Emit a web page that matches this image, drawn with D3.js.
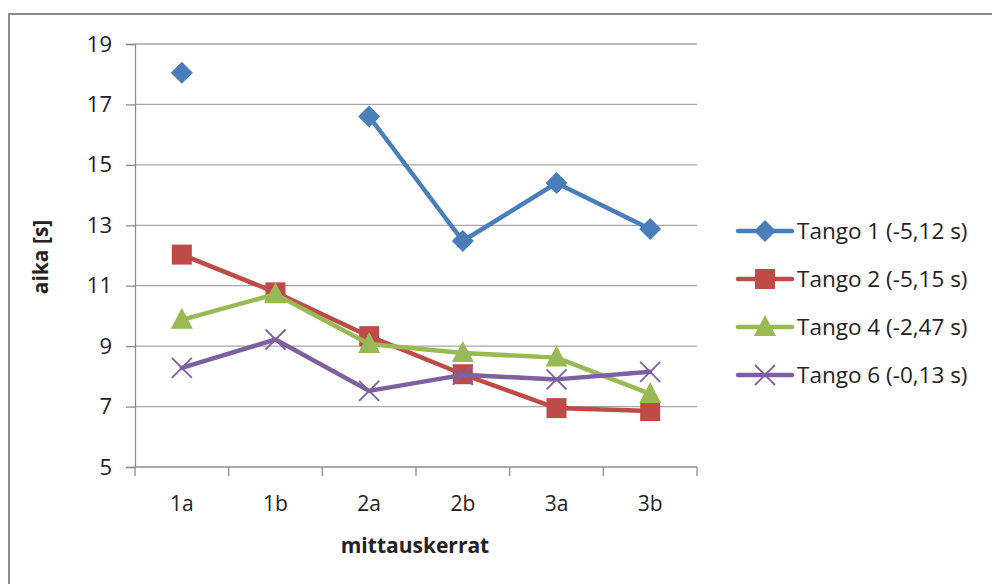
<!DOCTYPE html>
<html>
<head>
<meta charset="utf-8">
<script src="https://cdn.jsdelivr.net/npm/d3@7"></script>
<style>
  html, body { margin: 0; padding: 0; background: #fff; }
  svg { display: block; }
  text { font-family: "Open Sans", "Liberation Sans", sans-serif; fill: #222; }
</style>
</head>
<body>
<svg id="chart" width="992" height="584"></svg>
<script>
// Measurement rounds and lap times per tango (s)
const categories = ["1a", "1b", "2a", "2b", "3a", "3b"];
const seriesNames = ["Tango 1 (-5,12 s)", "Tango 2 (-5,15 s)", "Tango 4 (-2,47 s)", "Tango 6 (-0,13 s)"];
const tango1 = [18.05, null, 16.6, 12.48, 14.4, 12.88];
const tango2 = [12.03, 10.78, 9.33, 8.07, 6.95, 6.85];
const tango4 = [9.87, 10.72, 9.07, 8.77, 8.62, 7.42];
const tango6 = [8.28, 9.22, 7.52, 8.05, 7.9, 8.15];
const yTicks = [5, 7, 9, 11, 13, 15, 17, 19];
const colors = ["#4a7ebb", "#be4b48", "#98b954", "#7d60a0"];
const markers = ["diamond", "square", "triangle", "cross"];

const series = [tango1, tango2, tango4, tango6].map((values, i) => ({
  name: seriesNames[i], values, color: colors[i], marker: markers[i]
}));

const svg = d3.select("#chart");

// outer chart frame (top and left edges visible)
svg.append("path")
  .attr("d", "M9,584 V14 H992")
  .attr("fill", "none").attr("stroke", "#8a8a8a").attr("stroke-width", 2);

const plot = { left: 135, right: 697, top: 44, bottom: 467 };

const x = d3.scaleBand().domain(categories).range([plot.left, plot.right]);
const y = d3.scaleLinear().domain([5, 19]).range([plot.bottom, plot.top]);

// horizontal gridlines
svg.append("g").selectAll("line").data(yTicks.filter(t => t > 5)).join("line")
  .attr("x1", plot.left).attr("x2", plot.right)
  .attr("y1", d => y(d)).attr("y2", d => y(d))
  .attr("stroke", "#a6a6a6").attr("stroke-width", 1.3);

// y axis
const yAxis = svg.append("g").attr("transform", `translate(${plot.left},0)`)
  .call(d3.axisLeft(y).tickValues(yTicks).tickSize(9).tickPadding(14).tickFormat(d3.format("d")));
yAxis.select(".domain").attr("stroke", "#8c8c8c").attr("stroke-width", 1.3);
yAxis.selectAll(".tick line").attr("stroke", "#8c8c8c").attr("stroke-width", 1.3);
yAxis.selectAll("text").style("font-size", "22px").attr("fill", "#222");

// x axis with ticks on band boundaries
const xAxisG = svg.append("g").attr("transform", `translate(0,${plot.bottom})`);
xAxisG.append("line").attr("x1", plot.left).attr("x2", plot.right)
  .attr("y1", 0).attr("y2", 0).attr("stroke", "#8c8c8c").attr("stroke-width", 1.3);
const bounds = categories.map(c => x(c)).concat([plot.right]);
xAxisG.selectAll("line.tk").data(bounds).join("line").attr("class", "tk")
  .attr("x1", d => d).attr("x2", d => d).attr("y1", 0).attr("y2", 9)
  .attr("stroke", "#8c8c8c").attr("stroke-width", 1.3);
xAxisG.selectAll("text").data(categories).join("text")
  .attr("x", d => x(d) + x.bandwidth() / 2).attr("y", 44)
  .attr("text-anchor", "middle").style("font-size", "21px").text(d => d);

// axis titles
svg.append("text").attr("transform", `translate(48,257) rotate(-90)`)
  .attr("text-anchor", "middle").style("font-size", "21px").style("font-weight", "bold")
  .text("aika [s]");
svg.append("text").attr("x", 415).attr("y", 553)
  .attr("text-anchor", "middle").style("font-size", "21px").style("font-weight", "bold")
  .text("mittauskerrat");

function drawMarker(g, type, color, cx, cy) {
  if (type === "diamond") {
    g.append("path").attr("d", `M${cx},${cy - 11}L${cx + 11},${cy}L${cx},${cy + 11}L${cx - 11},${cy}Z`).attr("fill", color);
  } else if (type === "square") {
    g.append("rect").attr("x", cx - 10).attr("y", cy - 10).attr("width", 20).attr("height", 20).attr("fill", color);
  } else if (type === "triangle") {
    g.append("path").attr("d", `M${cx},${cy - 12}L${cx + 11},${cy + 9}L${cx - 11},${cy + 9}Z`).attr("fill", color);
  } else {
    g.append("path").attr("d", `M${cx - 10},${cy - 10}L${cx + 10},${cy + 10}M${cx + 10},${cy - 10}L${cx - 10},${cy + 10}`)
      .attr("stroke", color).attr("stroke-width", 1.8).attr("fill", "none");
  }
}

const cx = c => x(c) + x.bandwidth() / 2;
const line = d3.line().defined(d => d.v != null).x(d => cx(d.c)).y(d => y(d.v));

series.forEach(s => {
  const pts = s.values.map((v, i) => ({ c: categories[i], v }));
  const g = svg.append("g");
  g.append("path").datum(pts).attr("d", line)
    .attr("fill", "none").attr("stroke", s.color).attr("stroke-width", 4.5)
    .attr("stroke-linejoin", "round").attr("stroke-linecap", "round");
  pts.filter(p => p.v != null).forEach(p => drawMarker(g, s.marker, s.color, cx(p.c), y(p.v)));
});

// legend
const legend = svg.append("g");
series.forEach((s, i) => {
  const ly = 231 + i * 48;
  const g = legend.append("g");
  g.append("line").attr("x1", 738).attr("x2", 792).attr("y1", ly).attr("y2", ly)
    .attr("stroke", s.color).attr("stroke-width", 4.5).attr("stroke-linecap", "round");
  drawMarker(g, s.marker, s.color, 765, ly);
  g.append("text").attr("x", 797).attr("y", ly + 8).style("font-size", "22.5px").text(s.name);
});
</script>
</body>
</html>
